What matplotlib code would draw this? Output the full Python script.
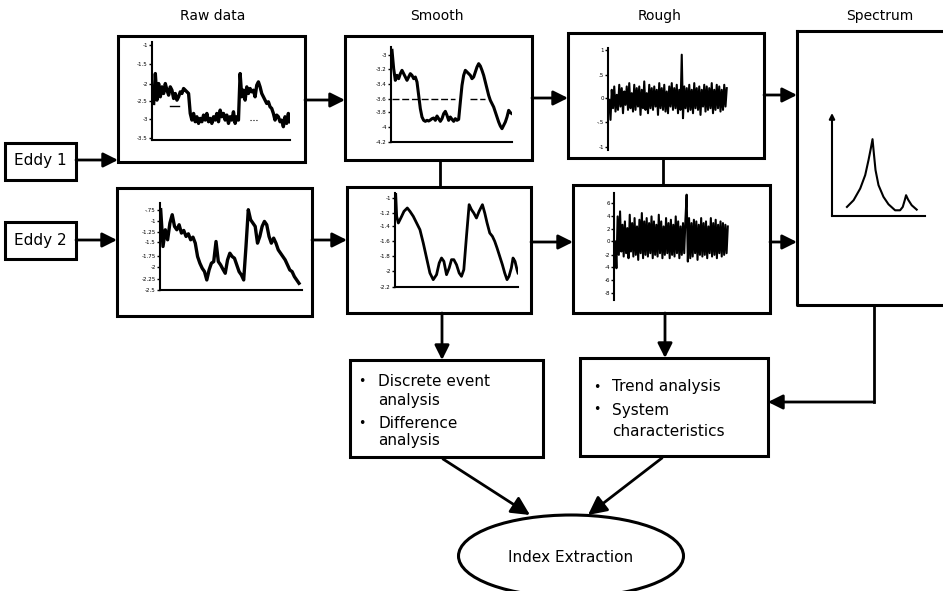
import numpy as np
import matplotlib.pyplot as plt
from matplotlib.patches import Rectangle, Ellipse

W, H = 943, 591

# column titles
titles = ["Raw data", "Smooth", "Rough", "Spectrum"]
title_x = [213, 437, 660, 880]

# raw data, eddy 1 (even sampling)
raw1 = [110, 200, 120, 170, 130, 160, 140, 170, 150, 135, 160, 150, 125, 140, 120, 130,
        145, 140, 155, 150, 145, 140, 80, 60, 80, 55, 70, 50, 65, 55, 75, 60, 80, 55,
        65, 50, 70, 60, 80, 55, 90, 70, 80, 60, 75, 50, 70, 60, 85, 50, 70, 60, 200,
        130, 150, 120, 160, 140, 155, 145, 150, 130, 165, 175, 160, 140, 130, 120, 110,
        115, 100, 95, 80, 60, 75, 70, 55, 60, 40, 70, 50, 80, 55]
raw1_ticks = [285, 230, 170, 118, 62, 5]
raw1_labels = ["-1", "-1.5", "-2", "-2.5", "-3", "-3.5"]

# raw data, eddy 2
raw2 = [240, 130, 180, 150, 200, 225, 190, 180, 195, 170, 178, 160, 168, 150, 158, 140,
        100, 80, 65, 55, 30, 60, 80, 85, 145, 85, 75, 62, 50, 90, 110, 100, 95, 75,
        55, 45, 30, 130, 240, 210, 200, 190, 140, 160, 190, 205, 195, 160, 140, 155,
        140, 120, 110, 100, 90, 75, 60, 55, 40, 30, 20]
raw2_ticks = [240, 205, 172, 142, 102, 68, 33, 0]
raw2_labels = ["-.75", "-1", "-1.25", "-1.5", "-1.75", "-2", "-2.25", "-2.5"]

# smoothed, eddy 1
smooth1 = [275, 220, 185, 200, 190, 205, 215, 205, 195, 185, 195, 205, 200, 190, 195,
           180, 140, 100, 75, 65, 62, 65, 63, 66, 70, 72, 65, 78, 70, 62, 70, 85, 92,
           80, 65, 75, 68, 62, 70, 65, 68, 120, 170, 200, 215, 210, 205, 200, 190, 195,
           210, 225, 235, 228, 215, 200, 180, 160, 140, 125, 115, 105, 90, 75, 60, 48,
           40, 50, 60, 75, 95, 88, 85]
smooth1_mean = 130
smooth1_mean_spans = [(0, 38), (47, 56)]
smooth1_ticks = [260, 220, 175, 130, 90, 45, 0]
smooth1_labels = ["-3", "-3.2", "-3.4", "-3.6", "-3.8", "-4", "-4.2"]

# smoothed, eddy 2 (uneven sampling)
smooth2_t = [2, 5, 10, 15, 20, 27, 37, 45, 55, 65, 75, 85, 95, 105, 115, 125, 133, 140,
             147, 155, 163, 170, 177, 185, 193, 200, 207, 215, 223, 230, 237, 245, 253,
             263, 270, 277, 285, 293, 300, 307, 315, 323, 330, 337, 343, 350, 355, 361,
             367, 370]
smooth2 = [282, 212, 192, 202, 212, 227, 237, 227, 212, 192, 172, 132, 87, 42, 22, 37,
           72, 87, 77, 37, 57, 82, 82, 67, 42, 32, 52, 152, 247, 232, 222, 207, 227,
           247, 222, 192, 162, 152, 137, 117, 92, 67, 42, 22, 32, 57, 87, 77, 52, 42]
smooth2_ticks = [267, 222, 182, 137, 92, 47, 0]
smooth2_labels = ["-1", "-1.2", "-1.4", "-1.6", "-1.8", "-2", "-2.2"]

# rough (residual) components
rough1 = [0, -60, 30, -25, 40, -35, 15, -30, 45, -20, 35, -40, 25, -15, 40, -30, 50, -25,
          20, -35, 45, -30, 35, -20, 40, -45, 30, -25, 55, -30, 20, -40, 45, -25, 35,
          -30, 40, -20, 30, -45, 50, -25, 35, -30, 45, -35, 25, -40, 40, -20, 50, -30,
          35, -25, 45, -40, 30, -30, 135, -55, 40, -25, 35, -35, 45, -30, 30, -40, 50,
          -25, 35, -30, 40, -45, 30, -20, 45, -35, 40, -30, 35, -25, 50, -40, 30, -30,
          45, -25, 40, -35, 30, -30, 45, -20, 35]
rough1_ticks = [150, 75, 5, -65, -140]
rough1_labels = ["1", ".5", "0", "-.5", "-1"]

rough2 = [0, -80, 75, -40, 90, -30, 50, -45, 60, -35, 40, -50, 80, -30, 55, -45, 70, -40,
          45, -55, 65, -35, 85, -50, 60, -40, 70, -45, 55, -35, 75, -50, 60, -40, 50,
          -45, 80, -35, 60, -50, 45, -40, 70, -35, 55, -50, 65, -40, 50, -45, 75, -35,
          60, -50, 45, -40, 55, -35, 65, 140, -60, 70, -50, 55, -45, 65, -35, 60, -55,
          50, -40, 70, -45, 55, -40, 60, -50, 45, -35, 70, -45, 55, -40, 65, -50, 50,
          -35, 60, -45, 55, -40, 50, -35, 45]
rough2_ticks = [115, 75, 37, 0, -40, -77, -115, -153]
rough2_labels = ["6", "4", "2", "0", "-2", "-4", "-6", "-8"]

# spectrum sketch
spec_f = [45, 65, 85, 100, 110, 117, 122, 126, 131, 140, 155, 170, 190, 205, 213, 219,
          223, 229, 240, 255]
spec_p = [27, 47, 82, 122, 167, 202, 229, 187, 137, 92, 57, 35, 17, 17, 27, 47, 62, 49,
          32, 19]

box_a_lines = ["Discrete event", "analysis", "Difference", "analysis"]
box_b_lines = ["Trend analysis", "System", "characteristics"]


fig = plt.figure(figsize=(W / 100, H / 100), dpi=100)
ax = fig.add_axes([0, 0, 1, 1])
ax.set_xlim(0, W)
ax.set_ylim(H, 0)
ax.axis('off')


def inset(x0, y0, x1, y1):
    a = fig.add_axes([x0 / W, 1 - y1 / H, (x1 - x0) / W, (y1 - y0) / H])
    a.patch.set_alpha(0)
    for s in ['top', 'right']:
        a.spines[s].set_visible(False)
    for s in ['left', 'bottom']:
        a.spines[s].set_linewidth(1.5)
    a.set_xticks([])
    a.tick_params(axis='y', length=2, width=1, pad=1, labelsize=4)
    return a


def box(x0, y0, x1, y1, lw=2.2):
    ax.add_patch(Rectangle((x0, y0), x1 - x0, y1 - y0, fill=False, lw=lw, ec='k'))


def arrow(x0, y0, x1, y1, ms=22):
    ax.annotate('', xy=(x1, y1), xytext=(x0, y0),
                arrowprops=dict(arrowstyle='-|>', lw=2, color='k', mutation_scale=ms,
                                shrinkA=0, shrinkB=0))


for t, x in zip(titles, title_x):
    ax.text(x, 16, t, ha='center', va='center', fontsize=10)

# left input boxes
box(5, 143, 76, 180)
ax.text(40, 161, "Eddy 1", ha='center', va='center', fontsize=11)
box(5, 222, 76, 259)
ax.text(40, 240, "Eddy 2", ha='center', va='center', fontsize=11)

# panel frames
box(118, 36, 305, 162)
box(345, 36, 532, 160)
box(568, 33, 764, 158)
box(117, 188, 312, 316)
box(347, 187, 531, 313)
box(573, 185, 770, 313)
ax.plot([797, 797, 950], [31, 305, 305], color='k', lw=2.2)
ax.plot([797, 950], [31, 31], color='k', lw=2.2)

# connectors
ax.plot([440, 440], [160, 187], color='k', lw=2)
ax.plot([663, 663], [158, 185], color='k', lw=2)
arrow(76, 160, 118, 160)
arrow(305, 100, 345, 100)
arrow(532, 98, 568, 98)
arrow(764, 95, 797, 95)
arrow(76, 240, 117, 240)
arrow(312, 240, 347, 240)
arrow(531, 242, 573, 242)
arrow(770, 242, 797, 242)
arrow(442, 313, 442, 360)
arrow(665, 313, 665, 358)
ax.plot([874, 874], [305, 402], color='k', lw=2)
arrow(874, 402, 768, 402)

# analysis boxes
box(350, 360, 543, 457)
ax.text(362, 381, "•", ha='center', va='center', fontsize=9)
ax.text(378, 381, box_a_lines[0], va='center', fontsize=11)
ax.text(378, 401, box_a_lines[1], va='center', fontsize=11)
ax.text(362, 423, "•", ha='center', va='center', fontsize=9)
ax.text(378, 423, box_a_lines[2], va='center', fontsize=11)
ax.text(378, 441, box_a_lines[3], va='center', fontsize=11)

box(580, 358, 768, 456)
ax.text(597, 387, "•", ha='center', va='center', fontsize=9)
ax.text(612, 387, box_b_lines[0], va='center', fontsize=11)
ax.text(597, 410, "•", ha='center', va='center', fontsize=9)
ax.text(612, 410, box_b_lines[1], va='center', fontsize=11)
ax.text(612, 432, box_b_lines[2], va='center', fontsize=11)

arrow(443, 459, 530, 515, ms=28)
arrow(662, 458, 588, 515, ms=28)
ax.add_patch(Ellipse((571, 556), 225, 82, fill=False, lw=2.2, ec='k'))
ax.text(571, 558, "Index Extraction", ha='center', va='center', fontsize=11)

# mini plots
a = inset(152, 42, 290, 140)
a.plot(np.arange(len(raw1)), raw1, color='k', lw=2.4)
a.plot([10, 15], [102, 102], color='k', lw=1)
a.plot([58, 62], [60, 60], color='k', lw=0.8, ls=':')
a.set_xlim(-1, len(raw1) - 1)
a.set_ylim(0, 295)
a.set_yticks(raw1_ticks, raw1_labels)

a = inset(160, 203, 302, 290)
a.plot(np.arange(len(raw2)), raw2, color='k', lw=2.4)
a.set_xlim(-0.3, len(raw2) + 0.3)
a.set_ylim(0, 260)
a.set_yticks(raw2_ticks, raw2_labels)

a = inset(391, 47, 512, 142)
a.plot(np.arange(len(smooth1)), smooth1, color='k', lw=2.2)
for s0, s1 in smooth1_mean_spans:
    a.plot([s0, s1], [smooth1_mean, smooth1_mean], color='k', lw=1, ls=(0, (5, 2)))
a.set_xlim(-0.6, len(smooth1) - 1)
a.set_ylim(0, 285)
a.set_yticks(smooth1_ticks, smooth1_labels)

a = inset(395, 193, 518, 287)
a.plot(smooth2_t, smooth2, color='k', lw=2)
a.set_xlim(0, 370)
a.set_ylim(0, 282)
a.set_yticks(smooth2_ticks, smooth2_labels)

a = inset(608, 48, 728, 150)
a.spines['bottom'].set_visible(False)
a.plot(np.arange(len(rough1)), rough1, color='k', lw=1.5)
a.set_xlim(-1, len(rough1))
a.set_ylim(-150, 155)
a.set_yticks(rough1_ticks, rough1_labels)

a = inset(614, 193, 729, 300)
a.spines['bottom'].set_visible(False)
a.plot(np.arange(len(rough2)), rough2, color='k', lw=1.5)
a.set_xlim(-1, len(rough2))
a.set_ylim(-175, 145)
a.set_yticks(rough2_ticks, rough2_labels)

a = inset(832, 113, 925, 216)
a.spines['left'].set_visible(False)
a.set_yticks([])
a.annotate('', xy=(0, 1), xytext=(0, 0), xycoords='axes fraction',
           arrowprops=dict(arrowstyle='-|>', lw=1.5, color='k', mutation_scale=8,
                           shrinkA=0, shrinkB=0))
a.plot(spec_f, spec_p, color='k', lw=1.5)
a.set_xlim(0, 280)
a.set_ylim(0, 307)

fig.savefig('out.png', dpi=100)
